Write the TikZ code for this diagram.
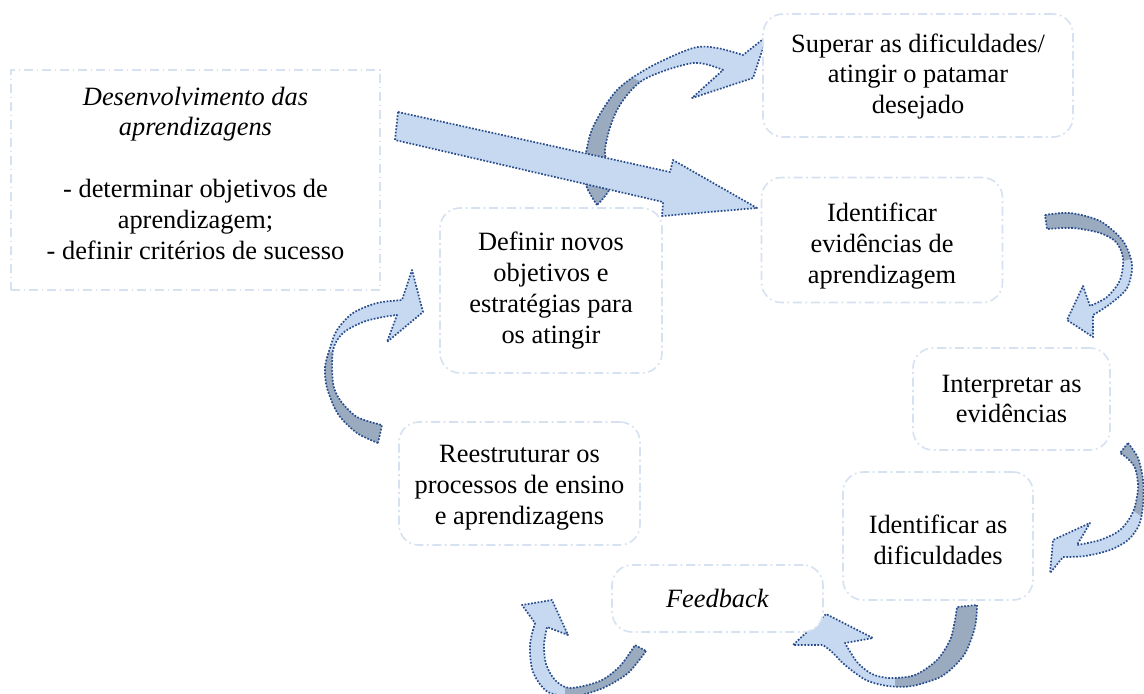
\documentclass[tikz,border=0pt]{standalone}
\usepackage{fontspec}
\setmainfont{Liberation Serif}
\definecolor{boxline}{RGB}{214,225,242}
\definecolor{arrowfill}{RGB}{198,217,240}
\definecolor{arrowback}{RGB}{155,171,191}
\definecolor{arrowedge}{RGB}{40,76,140}
\tikzset{
  box/.style={draw=boxline, line width=0.8pt,
    dash pattern=on 4.5pt off 1.8pt on 0.9pt off 1.8pt,
    fill=white, rounded corners=10pt, inner sep=0pt},
  sharpbox/.style={box, sharp corners},
  txt/.style={align=center, inner sep=0pt, font=\fontsize{13.2}{15.4}\selectfont},
  front/.style={fill=arrowfill},
  back/.style={fill=arrowback},
  rim/.style={draw=arrowedge, line width=0.85pt, dash pattern=on 0.85pt off 0.8pt, line join=round},
}
\begin{document}
\begin{tikzpicture}[x=0.5pt,y=-0.5pt]
\useasboundingbox (0,0) rectangle (1144,693);

% curved arrow outlines (outer edge, head, inner edge)
\def\arrowBshape{plot[smooth] coordinates {(597,205) (586,185) (585,160) (593,127) (617,90) (650,67) (693,48) (717,48) (743,55)} -- (767,36) -- (753,78) -- (692,98) -- plot[smooth] coordinates {(723,70) (693,63) (643,80) (617,110) (605,150) (611,185) (597,205)} -- cycle}
\def\arrowCshape{plot[smooth] coordinates {(1045,215) (1070,213) (1100,221) (1123,241) (1132,265) (1127,288) (1110,304) (1093,315)} -- (1093,337) -- (1067,320) -- (1083,286) -- plot[smooth] coordinates {(1090,306) (1107,297) (1120,280) (1123,258) (1116,242) (1100,233) (1073,228) (1047,229)} -- cycle}
\def\arrowDshape{plot[smooth] coordinates {(1128,443) (1138,458) (1143,480) (1143,505) (1139,525) (1128,540) (1110,550) (1085,556) (1063,557)} -- (1050,573) -- (1053,540) -- (1090,523) -- plot[smooth] coordinates {(1077,545) (1100,540) (1120,530) (1133,512) (1138,488) (1135,468) (1127,458) (1120,453)} -- cycle}
\def\arrowEshape{plot[smooth] coordinates {(977,605) (975,627) (964,655) (942,676) (912,686) (888,686) (866,680) (845,665) (832,652) (823,645)} -- (793,645) -- (826,614) -- (873,638) -- plot[smooth] coordinates {(845,643) (857,662) (872,674) (890,678) (915,675) (937,660) (950,640) (955,620) (957,607)} -- cycle}
\def\arrowFshape{plot[smooth] coordinates {(646,651) (628,673) (603,688) (575,696) (548,692) (533,672) (530,645) (535,623)} -- (522,605) -- (552,600) -- (568,635) -- plot[smooth] coordinates {(547,627) (544,645) (546,664) (555,680) (570,688) (600,681) (620,666) (635,645)} -- cycle}
\def\arrowGshape{plot[smooth] coordinates {(378,443) (357,433) (338,414) (327,388) (325,367) (330,348) (337,330) (353,313) (377,303) (402,300)} -- (412,270) -- (423,312) -- (387,342) -- plot[smooth] coordinates {(397,315) (383,317) (363,322) (343,333) (333,350) (333,383) (340,400) (357,417) (382,425)} -- cycle}

% top arrow towards "Superar"
\path[front] \arrowBshape;
\begin{scope}
  \clip (560,230) -- (560,100) -- (625,75) -- (650,85) -- (640,230) -- cycle;
  \path[back] \arrowBshape;
\end{scope}
\path[rim] \arrowBshape;

% straight block arrow
\path[front, rim] (398,112) -- (670,172) -- (673,160) -- (757,208) -- (662,216) -- (663,202) -- (395,140) -- cycle;

% right upper arrow
\path[front] \arrowCshape;
\begin{scope}
  \clip (1030,200) -- (1144,200) -- (1144,255) -- (1110,265) -- (1030,265) -- cycle;
  \path[back] \arrowCshape;
\end{scope}
\path[rim] \arrowCshape;

% right lower arrow
\path[front] \arrowDshape;
\begin{scope}
  \clip (1100,430) -- (1150,430) -- (1150,522) -- (1120,502) -- (1100,502) -- cycle;
  \path[back] \arrowDshape;
\end{scope}
\path[rim] \arrowDshape;

% arrow towards "Feedback"
\path[front] \arrowEshape;
\begin{scope}
  \clip (895,590) rectangle (1000,700);
  \path[back] \arrowEshape;
\end{scope}
\path[rim] \arrowEshape;

% bottom left arrow
\path[front] \arrowFshape;
\begin{scope}
  \clip (565,630) rectangle (660,700);
  \path[back] \arrowFshape;
\end{scope}
\path[rim] \arrowFshape;

% left arrow towards "Definir"
\path[front] \arrowGshape;
\begin{scope}
  \clip (300,352) rectangle (400,450);
  \path[back] \arrowGshape;
\end{scope}
\path[rim] \arrowGshape;

% boxes
\node[sharpbox, minimum width=184.5pt, minimum height=110pt] (dev) at (195.5,180) {};
\node[box, minimum width=155pt, minimum height=61.5pt] (sup) at (918,75.5) {};
\node[box, minimum width=120.5pt, minimum height=62.5pt] (ide) at (882,240) {};
\node[box, minimum width=98.5pt, minimum height=51pt] (int) at (1011.5,399) {};
\node[box, minimum width=95pt, minimum height=64pt] (dif) at (938,536) {};
\node[box, minimum width=105.5pt, minimum height=33.5pt] (fee) at (717.5,598.5) {};
\node[box, minimum width=120.5pt, minimum height=61.5pt] (ree) at (519.5,483.5) {};
\node[box, minimum width=111pt, minimum height=82.5pt] (def) at (551,290.5) {};

% box texts
\node[txt] (devtext) at ([yshift=3.5pt]dev.center)
  {\textit{Desenvolvimento das}\\\textit{aprendizagens}\\[15.4pt]- determinar objetivos de\\aprendizagem;\\- definir critérios de sucesso};
\node[txt] (suptext) at ([yshift=-0.5pt]sup.center) {Superar as dificuldades/\\atingir o patamar\\desejado};
\node[txt] (idetext) at ([yshift=-3pt]ide.center) {Identificar\\evidências de\\aprendizagem};
\node[txt] (inttext) at (int.center) {Interpretar as\\evidências};
\node[txt] (diftext) at ([yshift=-2pt]dif.center) {Identificar as\\dificuldades};
\node[txt] (feetext) at (fee.center) {\textit{Feedback}};
\node[txt] (reetext) at ([yshift=-2pt]ree.center) {Reestruturar os\\processos de ensino\\e aprendizagens};
\node[txt] (deftext) at (def.center) {Definir novos\\objetivos e\\estratégias para\\os atingir};
\end{tikzpicture}
\end{document}
